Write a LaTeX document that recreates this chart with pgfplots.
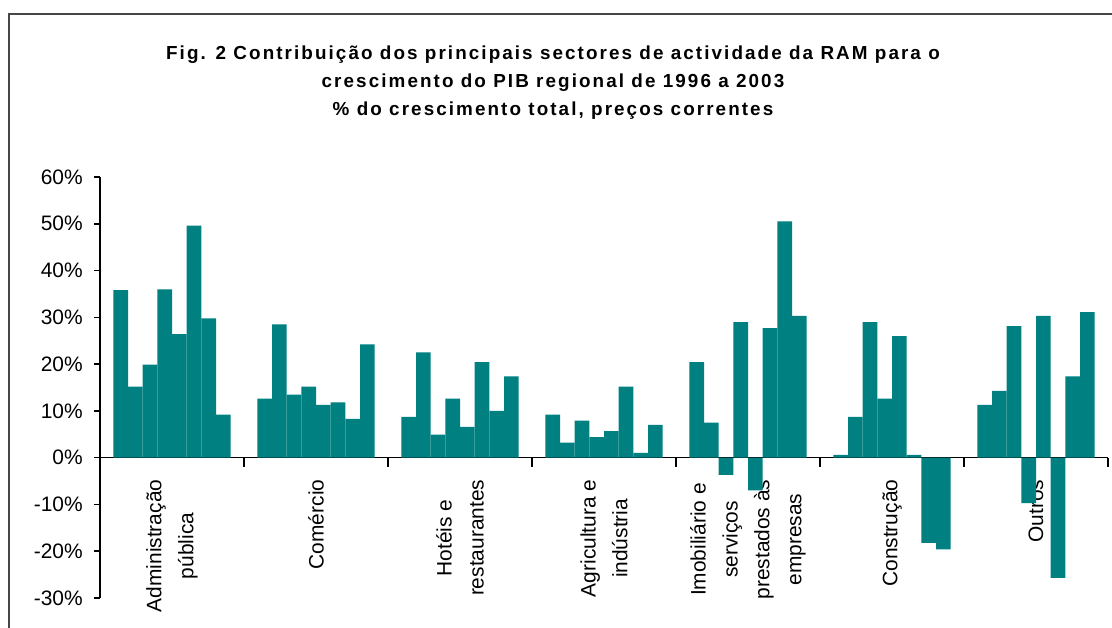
\documentclass[border=0pt]{standalone}
\usepackage{fontspec}
\setmainfont{Liberation Sans}
\newfontfamily\titlefont[LetterSpace=11]{Liberation Sans}
\usepackage{pgfplots}
\usepackage{pgfplotstable}
\pgfplotsset{compat=1.18}
\definecolor{barteal}{RGB}{0,128,128}
\definecolor{framegray}{RGB}{70,70,70}

% columns: category position, then the eight bars of each sector (% of total growth)
\pgfplotstableread{
c    s1    s2    s3    s4    s5    s6    s7    s8
0.5  35.8  15.2  19.9  36.0  26.4  49.6  29.8  9.2
1.5  12.6  28.5  13.5  15.2  11.3  11.8  8.3   24.2
2.5  8.7   22.5  4.9   12.6  6.6   20.4  10.0  17.4
3.5  9.2   3.2   7.9   4.4   5.7   15.2  1.0   7.0
4.5  20.4  7.5   -3.7  29.0  -7.0  27.7  50.5  30.3
5.5  0.6   8.7   29.0  12.6  26.0  0.6   -18.2 -19.6
6.5  11.3  14.3  28.1  -9.7  30.3  -25.7 17.4  31.1
}\datatable

\begin{document}
\begin{tikzpicture}
\path[use as bounding box] (0,0) rectangle (834bp,471bp);
% chart frame (left and top edges visible)
\draw[framegray, line width=1.6bp] (6.5bp,-5bp) -- (6.5bp,460.5bp) -- (840bp,460.5bp);
\node[align=center, font=\titlefont\bfseries\fontsize{14.2}{21}\selectfont, anchor=north]
  at (414.75bp,440bp)
  {Fig. 2 Contribuição dos principais sectores de actividade da RAM para o\\
   crescimento do PIB regional de 1996 a 2003\\
   \% do crescimento total, preços correntes};
\begin{axis}[
  at={(75bp,22.5bp)}, anchor=south west,
  scale only axis, width=756bp, height=315.75bp,
  xmin=0, xmax=7, ymin=-30, ymax=60,
  axis x line=middle, axis y line=left,
  axis line style={-, black, line width=1.2bp},
  hide obscured x ticks=false, hide obscured y ticks=false,
  ybar=0pt, bar width=11bp,
  xtick={0.5,1.5,2.5,3.5,4.5,5.5,6.5},
  xticklabels={{Administração\\pública},{Comércio},{Hotéis e\\restaurantes},{Agricultura e\\indústria},{Imobiliário e\\serviços\\prestados às\\empresas},{Construção},{Outros}},
  minor xtick={1,2,3,4,5,6,7},
  major x tick style={draw=none},
  minor x tick style={black, line width=1.2bp},
  tick align=outside,
  major tick length=4.5bp, minor tick length=6.75bp,
  ytick={-30,-20,-10,0,10,20,30,40,50,60},
  yticklabels={-30\%,-20\%,-10\%,0\%,10\%,20\%,30\%,40\%,50\%,60\%},
  y tick style={black, line width=1.2bp},
  yticklabel style={font=\fontsize{15.75}{18}\selectfont, anchor=east, xshift=-5bp},
  xticklabel style={font=\fontsize{15.75}{24}\selectfont, rotate=90, anchor=east, align=center, xshift=-8.5bp},
  clip=false,
]
\addplot[fill=barteal, draw=none] table[x=c, y=s1] {\datatable};
\addplot[fill=barteal, draw=none] table[x=c, y=s2] {\datatable};
\addplot[fill=barteal, draw=none] table[x=c, y=s3] {\datatable};
\addplot[fill=barteal, draw=none] table[x=c, y=s4] {\datatable};
\addplot[fill=barteal, draw=none] table[x=c, y=s5] {\datatable};
\addplot[fill=barteal, draw=none] table[x=c, y=s6] {\datatable};
\addplot[fill=barteal, draw=none] table[x=c, y=s7] {\datatable};
\addplot[fill=barteal, draw=none] table[x=c, y=s8] {\datatable};
\end{axis}
\end{tikzpicture}
\end{document}
